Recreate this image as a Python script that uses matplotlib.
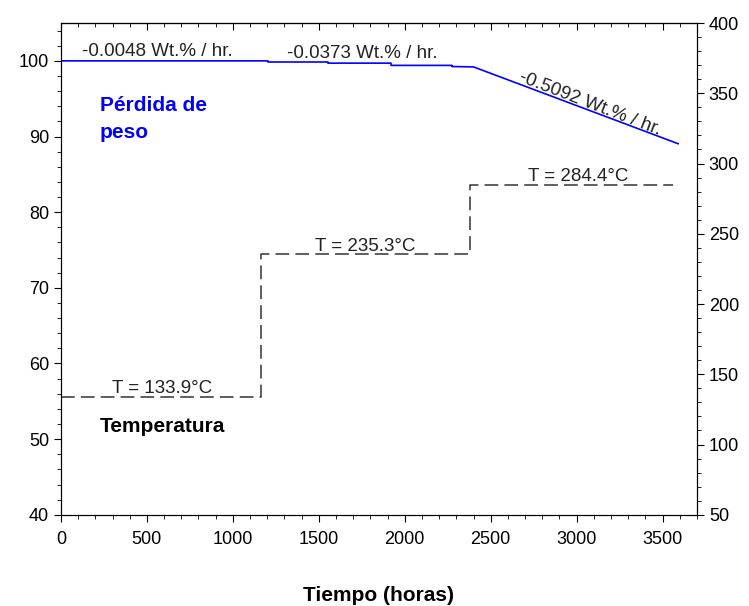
import matplotlib.pyplot as plt
from matplotlib.ticker import MultipleLocator, NullFormatter

plt.rcParams['font.family'] = ['Liberation Sans', 'DejaVu Sans']

# weight loss (left axis)
t_peso = [0, 1204, 1204, 1553, 1553, 1920, 1920, 2275, 2275, 2400, 3590]
peso = [100, 100, 99.85, 99.85, 99.7, 99.7, 99.4, 99.4, 99.25, 99.2, 89.05]

# temperature steps (right axis)
t_temp = [0, 1163, 1163, 2379, 2379, 3560]
temp = [133.9, 133.9, 235.3, 235.3, 284.4, 284.4]

fig = plt.figure(figsize=(7.49, 6.06), dpi=100)
ax = fig.add_axes([0.0814, 0.1505, 0.8492, 0.8115])
ax2 = ax.twinx()

ax.plot(t_peso, peso, color='#0000ff', lw=1.2)
ax2.plot(t_temp, temp, color='#333333', lw=1.1, dashes=(9, 4))

ax.set_xlim(0, 3700)
ax.set_ylim(40, 105)
ax2.set_ylim(50, 400)

ax.xaxis.set_major_locator(MultipleLocator(500))
ax.xaxis.set_minor_locator(MultipleLocator(100))
ax.yaxis.set_major_locator(MultipleLocator(10))
ax.yaxis.set_minor_locator(MultipleLocator(2))
ax2.yaxis.set_major_locator(MultipleLocator(50))
ax2.yaxis.set_minor_locator(MultipleLocator(10))

ax.tick_params(which='major', direction='out', length=5, labelsize=13)
ax.tick_params(which='minor', direction='out', length=3)
ax.tick_params(axis='x', pad=7)
ax2.tick_params(which='major', direction='out', length=5, labelsize=13)
ax2.tick_params(which='minor', direction='out', length=3)

# top ticks point inward
top = ax.secondary_xaxis('top')
top.xaxis.set_major_locator(MultipleLocator(500))
top.xaxis.set_minor_locator(MultipleLocator(100))
top.xaxis.set_major_formatter(NullFormatter())
top.tick_params(which='major', direction='in', length=5)
top.tick_params(which='minor', direction='in', length=3)

ax.set_xlabel('Tiempo (horas)', fontsize=15, fontweight='bold', labelpad=27)

# rate annotations
ax.text(122, 100.65, '-0.0048 Wt.% / hr.', fontsize=13.5, color='#222222')
ax.text(1315, 100.35, '-0.0373 Wt.% / hr.', fontsize=13.5, color='#222222')
ax.text(3077, 94.3, '-0.5092 Wt.% / hr.', fontsize=13.5, color='#222222',
        rotation=-21, rotation_mode='anchor', ha='center', va='center')

ax.text(227, 93.4, 'Pérdida de', fontsize=15, fontweight='bold', color='#0000ff')
ax.text(227, 89.85, 'peso', fontsize=15, fontweight='bold', color='#0000ff')
ax.text(227, 50.9, 'Temperatura', fontsize=15, fontweight='bold', color='black')

# temperature labels
ax2.text(588, temp[0] + 2.5, 'T = 133.9°C', fontsize=13.5, ha='center', color='#222222')
ax2.text(1770, temp[2] + 2.5, 'T = 235.3°C', fontsize=13.5, ha='center', color='#222222')
ax2.text(3007, temp[4] + 3, 'T = 284.4°C', fontsize=13.5, ha='center', color='#222222')

fig.savefig('out.png', dpi=100)
